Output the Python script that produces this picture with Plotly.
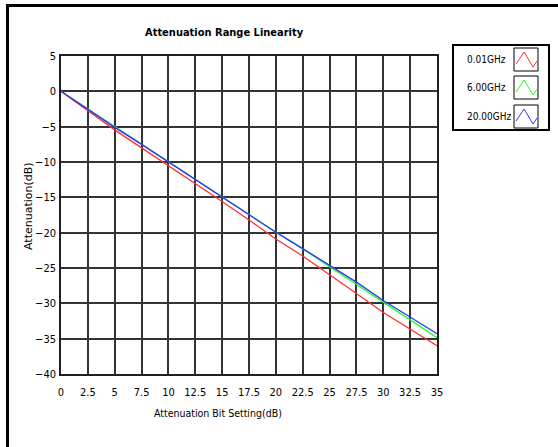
import plotly.graph_objects as go

# ---- data ----
x_setting = [0, 2.5, 5, 7.5, 10, 12.5, 15, 17.5, 20, 22.5, 25, 27.5, 30, 32.5, 35]
att_001 = [0, -2.7, -5.45, -8.0, -10.5, -13.1, -15.6, -18.2, -20.9, -23.3, -25.9, -28.6, -31.3, -33.7, -36.0]
att_600 = [0, -2.5, -5.0, -7.4, -9.9, -12.4, -14.9, -17.4, -19.9, -22.3, -24.8, -27.3, -29.8, -32.3, -34.85]
att_2000 = [0, -2.55, -5.1, -7.5, -10.0, -12.45, -14.95, -17.4, -19.95, -22.25, -24.6, -27.0, -29.6, -31.9, -34.3]
series_names = ["0.01GHz", "6.00GHz", "20.00GHz"]
series_colors = ["#ff3030", "#20ff20", "#3030ff"]
x_ticks = [0, 2.5, 5, 7.5, 10, 12.5, 15, 17.5, 20, 22.5, 25, 27.5, 30, 32.5, 35]
x_ticktext = ["0", "2.5", "5", "7.5", "10", "12.5", "15", "17.5", "20", "22.5", "25", "27.5", "30", "32.5", "35"]
y_ticks = [5, 0, -5, -10, -15, -20, -25, -30, -35, -40]

W, H = 558, 447
L, R, T, B = 61, 437, 56, 374  # plot area pixels

def px(xp):
    return (xp - L) / (R - L)

def py(yp):
    return (B - yp) / (B - T)

FONT = "DejaVu Sans Condensed, Liberation Sans Narrow, Liberation Sans, sans-serif"

fig = go.Figure()
for ys, name, col in zip([att_001, att_600, att_2000], series_names, series_colors):
    fig.add_trace(go.Scatter(x=x_setting, y=ys, mode="lines", name=name,
                             line=dict(color=col, width=1.3), showlegend=False))

shapes = []
annotations = []

# outer frame (left & top thick lines)
shapes.append(dict(type="line", xref="paper", yref="paper", x0=px(7.5), x1=px(7.5), y0=py(5), y1=py(447),
                   line=dict(color="black", width=3)))
shapes.append(dict(type="line", xref="paper", yref="paper", x0=px(6), x1=px(558), y0=py(5.5), y1=py(5.5),
                   line=dict(color="black", width=3)))

# legend box
shapes.append(dict(type="rect", xref="paper", yref="paper", x0=px(453), x1=px(549), y0=py(45), y1=py(130),
                   line=dict(color="black", width=2), fillcolor="white"))
row_tops = [48, 76, 105]
row_h = 23
for i, (name, col) in enumerate(zip(series_names, series_colors)):
    t = row_tops[i]
    shapes.append(dict(type="rect", xref="paper", yref="paper", x0=px(514), x1=px(538), y0=py(t), y1=py(t + row_h),
                       line=dict(color="black", width=1), fillcolor="white"))
    pts = [(516, t + 16), (524, t + 4), (533, t + 19), (537, t + 13)]
    path = "M " + " L ".join(f"{px(a)},{py(b)}" for a, b in pts)
    shapes.append(dict(type="path", xref="paper", yref="paper", path=path, line=dict(color=col, width=1)))
    annotations.append(dict(text=name, xref="paper", yref="paper", x=px(465), y=py(t + 11.5), xanchor="left",
                            yanchor="middle", showarrow=False, font=dict(family=FONT, size=10, color="black")))

# title
annotations.append(dict(text="<b>Attenuation Range Linearity</b>", xref="paper", yref="paper",
                        x=px(224), y=py(33), xanchor="center", yanchor="middle", showarrow=False,
                        font=dict(family=FONT, size=11, color="black")))
# axis titles
annotations.append(dict(text="Attenuation Bit Setting(dB)", xref="paper", yref="paper",
                        x=px(218), y=py(413), xanchor="center", yanchor="middle", showarrow=False,
                        font=dict(family=FONT, size=10.5, color="black")))
annotations.append(dict(text="Attenuation(dB)", xref="paper", yref="paper", textangle=-90,
                        x=px(28), y=py(206), xanchor="center", yanchor="middle", showarrow=False,
                        font=dict(family="DejaVu Sans, sans-serif", size=11, color="black")))

fig.update_layout(
    width=W, height=H,
    margin=dict(l=L, r=W - R, t=T, b=H - B),
    paper_bgcolor="white", plot_bgcolor="white",
    shapes=shapes, annotations=annotations,
    showlegend=False,
)
fig.update_xaxes(range=[0, 35], tickvals=x_ticks, ticktext=x_ticktext, showgrid=True,
                 gridcolor="#333333", gridwidth=1.6, showline=True, linecolor="#202020", linewidth=1.6,
                 mirror=True, zeroline=False, ticks="", ticklabelstandoff=7,
                 tickfont=dict(family=FONT, size=11, color="black"))
fig.update_yaxes(range=[-40, 5], tickvals=y_ticks, showgrid=True,
                 gridcolor="#333333", gridwidth=1.6, showline=True, linecolor="#202020", linewidth=1.6,
                 mirror=True, zeroline=False, ticks="", ticklabelstandoff=1,
                 tickfont=dict(family=FONT, size=11, color="black"))

fig.write_html("out.html")
